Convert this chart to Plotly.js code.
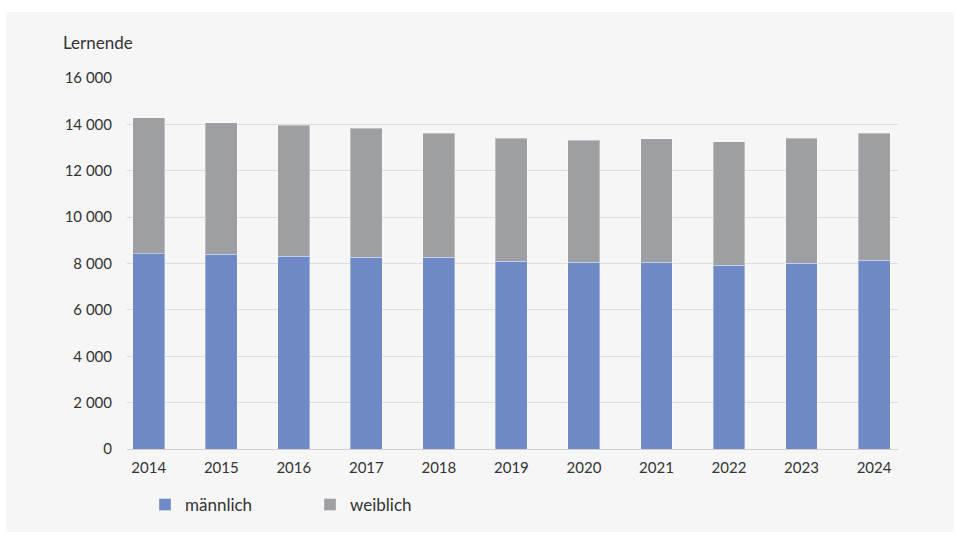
<!DOCTYPE html>
<html>
<head>
<meta charset="utf-8">
<script src="https://cdn.plot.ly/plotly-3.0.1.min.js"></script>
<style>
html,body{margin:0;padding:0;background:#ffffff;}
#chart{position:absolute;left:6px;top:12px;width:948px;height:520px;}
</style>
</head>
<body>
<div id="chart"></div>
<script>
const years = ['2014','2015','2016','2017','2018','2019','2020','2021','2022','2023','2024'];
const maennlich = [8430, 8400, 8320, 8270, 8270, 8100, 8060, 8060, 7930, 8010, 8140];
const total = [14280, 14060, 13970, 13830, 13610, 13410, 13310, 13390, 13250, 13410, 13610];
const weiblich = total.map((t, i) => t - maennlich[i]);
const yTicks = [0, 2000, 4000, 6000, 8000, 10000, 12000, 14000, 16000];

const fontFam = 'Lato, "Noto Sans", sans-serif';
const traces = [
  {type:'bar', name:'männlich', x:years, y:maennlich,
   marker:{color:'#6f89c6', line:{color:'rgba(255,255,255,0.35)', width:1}}, hoverinfo:'x+y+name'},
  {type:'bar', name:'weiblich', x:years, y:weiblich,
   marker:{color:'#9e9fa2', line:{color:'rgba(255,255,255,0.35)', width:1}}, hoverinfo:'x+y+name'}
];
const layout = {
  width:948, height:520,
  barmode:'stack', bargap:0.56,
  paper_bgcolor:'#f6f6f6', plot_bgcolor:'#f6f6f6',
  separators:', ',
  font:{family:fontFam, size:15, color:'#333333'},
  margin:{l:121, r:56, t:66, b:83},
  title:{text:'Lernende', xref:'container', yref:'container', x:57/948, xanchor:'left',
         y:1-31/520, yanchor:'middle', font:{family:fontFam, size:17, color:'#333333'}},
  xaxis:{type:'category', range:[-0.3, 10.33], showgrid:false, zeroline:false, showline:false,
         ticks:'', ticklabelstandoff:8, tickfont:{size:15, color:'#333333'}},
  yaxis:{range:[0,16000], tickvals:yTicks, tickformat:',d', showgrid:true, gridcolor:'#dddddd',
         gridwidth:1, zeroline:true, zerolinecolor:'#cfcfcf', zerolinewidth:1, showline:false,
         ticks:'', ticklabelstandoff:14, tickfont:{size:15, color:'#333333'}},
  showlegend:true,
  legend:{orientation:'h', xref:'container', yref:'container', x:139/948, xanchor:'left',
          y:(520-493)/520, yanchor:'middle', entrywidth:120, entrywidthmode:'pixels',
          font:{size:17, color:'#333333'}, bgcolor:'rgba(0,0,0,0)', traceorder:'normal'}
};
Plotly.newPlot('chart', traces, layout, {displayModeBar:false, staticPlot:true});
</script>
</body>
</html>
